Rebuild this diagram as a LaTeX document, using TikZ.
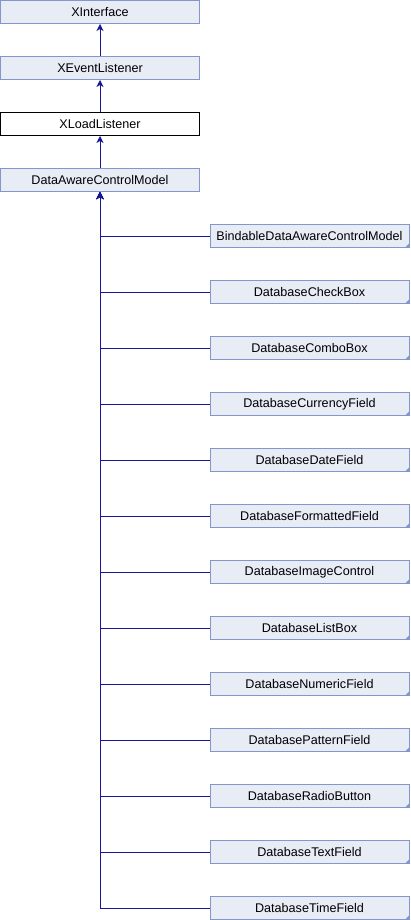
\documentclass[tikz,border=0pt]{standalone}
\usepackage{fontspec}
\setmainfont{Liberation Sans}
\usetikzlibrary{arrows.meta}
\definecolor{boxfill}{RGB}{232,236,245}
\definecolor{boxline}{RGB}{132,151,204}
\definecolor{edge}{RGB}{22,22,150}
\tikzset{
  cls/.style={draw=boxline, fill=boxfill, line width=1pt, minimum width=199pt, minimum height=23pt, inner sep=0pt, font=\fontsize{12.6}{14}\selectfont, text=black},
  cur/.style={cls, draw=black, fill=white},
  inh/.style={draw=edge, line width=1pt, -{Stealth[length=7pt,width=7pt,inset=2pt]}},
}
\newcommand{\foldc}[1]{\fill[boxline] ([xshift=-0.5pt,yshift=0.5pt]#1.south east) -- ++(-4pt,0) -- ++(4pt,4pt) -- cycle;}
\begin{document}
\begin{tikzpicture}[x=1pt,y=-1pt]
\useasboundingbox (0,0) rectangle (410,920);
\node[cls] (xi) at (100,12) {XInterface};
\node[cls] (xel) at (100,68) {XEventListener};
\node[cur] (xll) at (100,124) {XLoadListener};
\node[cls] (dacm) at (100,180) {DataAwareControlModel};
\foreach \n/\t [count=\i from 0] in {
  c0/BindableDataAwareControlModel,
  c1/DatabaseCheckBox,
  c2/DatabaseComboBox,
  c3/DatabaseCurrencyField,
  c4/DatabaseDateField,
  c5/DatabaseFormattedField,
  c6/DatabaseImageControl,
  c7/DatabaseListBox,
  c8/DatabaseNumericField,
  c9/DatabasePatternField,
  c10/DatabaseRadioButton,
  c11/DatabaseTextField,
  c12/DatabaseTimeField}{
  \node[cls] (\n) at (309.5,236+56*\i) {\t};
  \foldc{\n}
  \draw[inh] (\n.west) -| (dacm.south);
}
\draw[inh] (xel.north) -- (xi.south);
\draw[inh] (xll.north) -- (xel.south);
\draw[inh] (dacm.north) -- (xll.south);
\end{tikzpicture}
\end{document}
